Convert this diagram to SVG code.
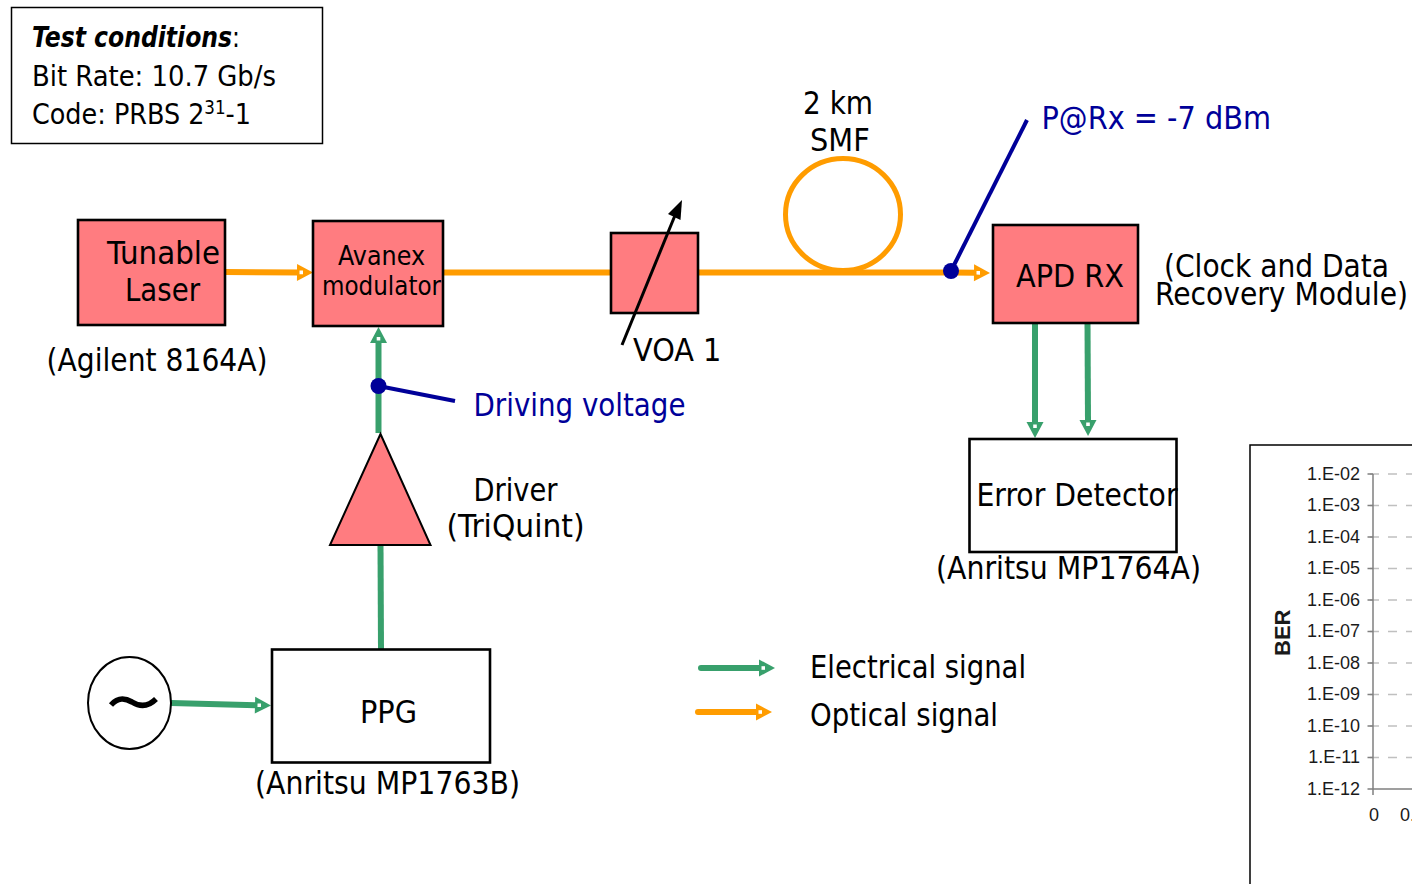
<svg xmlns="http://www.w3.org/2000/svg" width="1412" height="884" viewBox="0 0 1412 884">
<defs>
<marker id="ag" markerUnits="userSpaceOnUse" markerWidth="20" markerHeight="20" refX="4" refY="10" orient="auto"><path d="M1 1.500 L17 10 L1 18.500 Z" fill="#38a06c"/><rect x="3.500" y="8.200" width="3.500" height="3.600" fill="#fff"/></marker>
<marker id="ao" markerUnits="userSpaceOnUse" markerWidth="20" markerHeight="20" refX="4" refY="10" orient="auto"><path d="M1 1.500 L17 10 L1 18.500 Z" fill="#ff9c00"/><rect x="3.500" y="8.200" width="3.500" height="3.600" fill="#fff"/></marker>
</defs>
<style>
text{font-family:"DejaVu Sans",Verdana,sans-serif;font-stretch:condensed;font-size:32px;fill:#000}
.b{fill:#000099}
.n{fill:#ff7c80;stroke:#000;stroke-width:2.600}
.w{fill:#fff;stroke:#000;stroke-width:2.600}
.g{fill:none;stroke:#38a06c;stroke-width:6}
.o{fill:none;stroke:#ff9c00;stroke-width:6}
.d{fill:none;stroke:#000099;stroke-width:4}
.t{font-family:"Liberation Sans",Arial,sans-serif;font-stretch:normal;font-size:18px;fill:#1a1a1a}
.ax{stroke:#808080;stroke-width:1.500;fill:none}
.gr{stroke:#c0c0c0;stroke-width:1.500;stroke-dasharray:9 9;fill:none}
</style>
<g id="conditions"><rect x="11.500" y="7.500" width="311" height="136" fill="#fff" stroke="#000" stroke-width="1.500"/>
<text x="32" y="47" style="font-size:29px" textLength="208" lengthAdjust="spacingAndGlyphs"><tspan font-weight="bold" font-style="italic">Test conditions</tspan>:</text>
<text x="32" y="86" style="font-size:29px" textLength="244" lengthAdjust="spacingAndGlyphs">Bit Rate: 10.7 Gb/s</text>
<text x="32" y="124" style="font-size:29px" textLength="219" lengthAdjust="spacingAndGlyphs">Code: PRBS 2<tspan dy="-10" style="font-size:19px">31</tspan><tspan dy="10">-1</tspan></text></g>
<g id="connectors">
<path class="o" d="M225 272 L300 272.400" marker-end="url(#ao)"/>
<path class="o" d="M443 272.500 H611 M698 272.500 H951 L977 272.800" marker-end="url(#ao)"/>
<ellipse cx="843" cy="214.500" rx="57.500" ry="56" class="o" style="stroke-width:5"/>
<path class="g" d="M378.500 433 V340" marker-end="url(#ag)"/>
<path class="g" d="M381 650 L380.500 545"/>
<path class="g" d="M171 703 L258 705.200" marker-end="url(#ag)"/>
<path class="g" d="M1035 324 V425" marker-end="url(#ag)"/>
<path class="g" d="M1087.500 322 L1088 423" marker-end="url(#ag)"/>
<path class="g" d="M701 668 H762" marker-end="url(#ag)" stroke-linecap="round"/>
<path class="o" d="M698 712 H759" marker-end="url(#ao)" stroke-linecap="round"/>
<path class="d" d="M951 271 L1027 120"/><circle cx="951" cy="271" r="8" fill="#000099"/>
<path class="d" d="M378.500 386 L455 401"/><circle cx="378.500" cy="386" r="8" fill="#000099"/>
</g>
<g id="laser"><rect class="n" x="78" y="220" width="147" height="105"/><text x="107" y="264" textLength="113" lengthAdjust="spacingAndGlyphs">Tunable</text><text x="125" y="301" textLength="75" lengthAdjust="spacingAndGlyphs">Laser</text></g>
<text x="46.500" y="371" textLength="221" lengthAdjust="spacingAndGlyphs">(Agilent 8164A)</text>
<g id="modulator"><rect class="n" x="313" y="221" width="130" height="105"/><text x="338" y="264.500" style="font-size:27px" textLength="87" lengthAdjust="spacingAndGlyphs">Avanex</text><text x="322" y="295" style="font-size:27px" textLength="119" lengthAdjust="spacingAndGlyphs">modulator</text></g>
<g id="voa"><rect class="n" x="611" y="233" width="87" height="80"/><path d="M622 345 L678 208" stroke="#000" stroke-width="3" fill="none"/><path d="M668 214 L682 200 L680.500 220 Z"/><text x="633" y="361">VOA 1</text></g>
<g id="fiber-label"><text x="803" y="114" textLength="70" lengthAdjust="spacingAndGlyphs">2 km</text><text x="810" y="151">SMF</text></g>
<text class="b" x="1041.500" y="129">P@Rx = -7 dBm</text>
<g id="apd"><rect class="n" x="993" y="225" width="145" height="98"/><text x="1016" y="287">APD RX</text></g>
<text x="1164" y="277" textLength="225" lengthAdjust="spacingAndGlyphs">(Clock and Data</text><text x="1155" y="305" textLength="253" lengthAdjust="spacingAndGlyphs">Recovery Module)</text>
<g id="error-detector"><rect class="w" x="969.500" y="439" width="207" height="113"/><text x="976.500" y="506" textLength="201" lengthAdjust="spacingAndGlyphs">Error Detector</text></g>
<text x="936" y="579" textLength="265" lengthAdjust="spacingAndGlyphs">(Anritsu MP1764A)</text>
<text class="b" x="473.500" y="416" textLength="212" lengthAdjust="spacingAndGlyphs">Driving voltage</text>
<g id="driver"><path class="n" d="M380.500 434 L430.500 545 H330 Z" style="stroke-width:2"/><text x="473.500" y="501" textLength="84" lengthAdjust="spacingAndGlyphs">Driver</text><text x="446.500" y="537" textLength="138" lengthAdjust="spacingAndGlyphs">(TriQuint)</text></g>
<g id="source"><ellipse cx="129.500" cy="703" rx="41.500" ry="46" fill="#fff" stroke="#000" stroke-width="2"/><path d="M111 705 C118 697 125 698 132 702 C140 707 148 707 156 699" fill="none" stroke="#000" stroke-width="5.500"/></g>
<g id="ppg"><rect class="w" x="272" y="649.500" width="218" height="113"/><text x="360" y="723">PPG</text></g>
<text x="255" y="794" textLength="265" lengthAdjust="spacingAndGlyphs">(Anritsu MP1763B)</text>
<text x="810" y="678" textLength="216" lengthAdjust="spacingAndGlyphs">Electrical signal</text>
<text x="810" y="726" textLength="188" lengthAdjust="spacingAndGlyphs">Optical signal</text>
<g id="chart"><rect x="1250" y="445" width="170" height="450" fill="#fff" stroke="#000" stroke-width="1.500"/>
<path class="gr" d="M1370 474 H1412 M1370 505.500 H1412 M1370 537 H1412 M1370 568.500 H1412 M1370 600 H1412 M1370 631.500 H1412 M1370 663 H1412 M1370 694.500 H1412 M1370 726 H1412 M1370 757.500 H1412"/>
<path class="ax" d="M1373 474 V795 M1367.500 474 H1373 M1367.500 505.500 H1373 M1367.500 537 H1373 M1367.500 568.500 H1373 M1367.500 600 H1373 M1367.500 631.500 H1373 M1367.500 663 H1373 M1367.500 694.500 H1373 M1367.500 726 H1373 M1367.500 757.500 H1373 M1367.500 789 H1412"/>
<g text-anchor="end"><text class="t" x="1360" y="480">1.E-02</text><text class="t" x="1360" y="511">1.E-03</text><text class="t" x="1360" y="543">1.E-04</text><text class="t" x="1360" y="574">1.E-05</text><text class="t" x="1360" y="606">1.E-06</text><text class="t" x="1360" y="637">1.E-07</text><text class="t" x="1360" y="669">1.E-08</text><text class="t" x="1360" y="700">1.E-09</text><text class="t" x="1360" y="732">1.E-10</text><text class="t" x="1360" y="763">1.E-11</text><text class="t" x="1360" y="795">1.E-12</text></g>
<text class="t" x="1369" y="821">0</text><text class="t" x="1400" y="821">0.</text>
<text class="t" transform="translate(1290 656) rotate(-90)" style="font-size:22px;font-weight:bold">BER</text></g>
</svg>
